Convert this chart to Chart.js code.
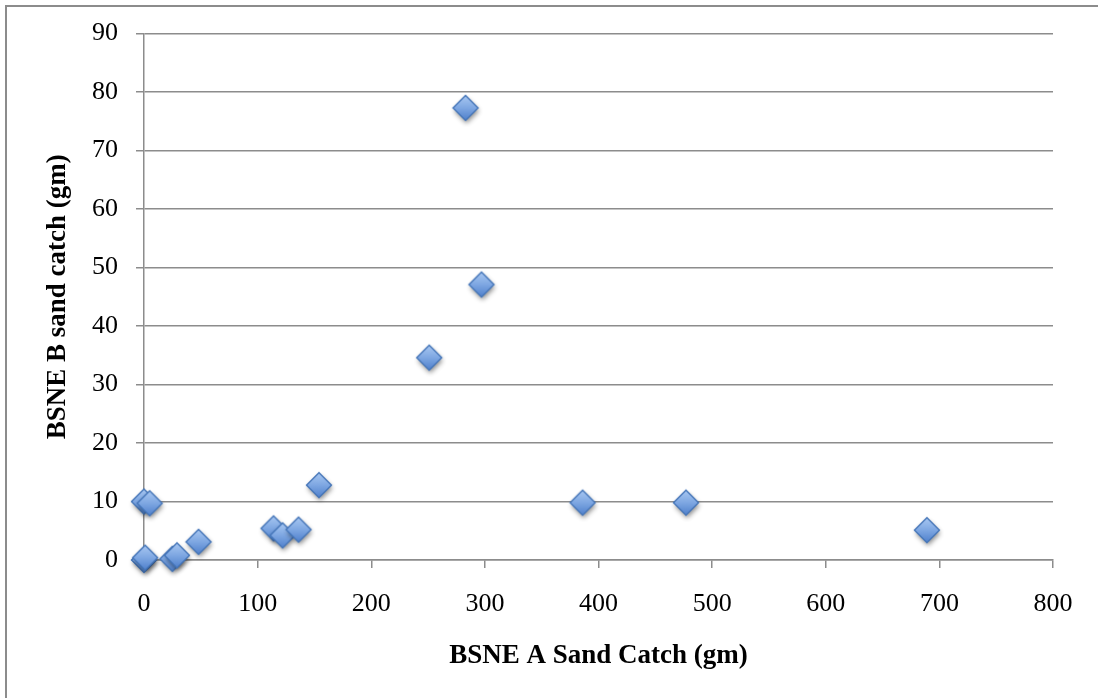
<!DOCTYPE html>
<html>
<head>
<meta charset="utf-8">
<script src="https://cdn.jsdelivr.net/npm/chart.js@4"></script>
<style>
  html, body { margin: 0; padding: 0; background: #fff; }
  #wrap { position: relative; width: 1098px; height: 698px; }
  #frame {
    position: absolute; left: 5px; top: 5px; width: 1093px; height: 693px;
    border-top: 2px solid #8c8c8c; border-left: 2px solid #8c8c8c;
    box-sizing: border-box; pointer-events: none;
  }
  canvas { position: absolute; left: 0; top: 0; }
</style>
</head>
<body>
<div id="wrap">
  <canvas id="c" width="1098" height="698"></canvas>
  <div id="frame"></div>
</div>
<script>
// BSNE trap A catch (x) versus trap B catch (y), grams
const catchA = [0, 1, 25, 29, 48, 0, 5, 114, 122, 136, 154, 251, 283, 297, 386, 477, 689];
const catchB = [0, 0.4, 0.2, 0.8, 3.1, 10.0, 9.7, 5.4, 4.2, 5.2, 12.8, 34.6, 77.3, 47.1, 9.8, 9.8, 5.1];

const xTitle = 'BSNE A Sand Catch (gm)';
const yTitle = 'BSNE B sand catch (gm)';

const points = catchA.map((x, i) => ({ x: x, y: catchB[i] }));

// Diamond marker with gradient fill and soft drop shadow
function makeDiamond(half) {
  const size = 44;
  const cv = document.createElement('canvas');
  cv.width = size; cv.height = size;
  const g = cv.getContext('2d');
  const c = size / 2;
  const path = () => {
    g.beginPath();
    g.moveTo(c, c - half);
    g.lineTo(c + half, c);
    g.lineTo(c, c + half);
    g.lineTo(c - half, c);
    g.closePath();
  };
  const grad = g.createLinearGradient(0, c - half, 0, c + half);
  grad.addColorStop(0, '#a9c8f2');
  grad.addColorStop(0.5, '#7ea7e2');
  grad.addColorStop(1, '#4f80cc');
  g.save();
  g.shadowColor = 'rgba(0,0,0,0.45)';
  g.shadowBlur = 5;
  g.shadowOffsetX = 1;
  g.shadowOffsetY = 3;
  path();
  g.fillStyle = grad;
  g.fill();
  g.restore();
  path();
  g.lineWidth = 1.4;
  g.strokeStyle = '#4475b8';
  g.stroke();
  return cv;
}

const marker = makeDiamond(12.5);
const gridColor = '#8c8c8c';
const tickFont = { family: '"Liberation Serif", serif', size: 26 };
const titleFont = { family: '"Liberation Serif", serif', size: 27, weight: 'bold' };

new Chart(document.getElementById('c'), {
  type: 'scatter',
  data: {
    datasets: [{
      data: points,
      pointStyle: marker,
      pointRadius: 13,
      pointHoverRadius: 13,
      clip: false
    }]
  },
  options: {
    responsive: false,
    animation: false,
    devicePixelRatio: 1,
    layout: { padding: { left: 6, top: 33, right: 45, bottom: 0 } },
    plugins: { legend: { display: false }, tooltip: { enabled: false } },
    scales: {
      x: {
        type: 'linear',
        min: 0, max: 800,
        ticks: { stepSize: 100, color: '#000', font: tickFont, padding: 21, maxRotation: 0 },
        grid: { drawOnChartArea: false, drawTicks: true, tickLength: 8, color: gridColor, lineWidth: 1.5 },
        border: { display: true, color: gridColor, width: 1.5 },
        title: { display: true, text: xTitle, color: '#000', font: titleFont, padding: { top: 0, bottom: 26 } },
        afterFit: (s) => { s.height = 138; }
      },
      y: {
        type: 'linear',
        min: 0, max: 90,
        ticks: { stepSize: 10, color: '#000', font: tickFont, padding: 18 },
        grid: { drawOnChartArea: true, drawTicks: true, tickLength: 8, color: gridColor, lineWidth: 1.5 },
        border: { display: true, color: gridColor, width: 1.5 },
        title: { display: true, text: yTitle, color: '#000', font: titleFont, padding: { top: 36, bottom: 0 } },
        afterFit: (s) => { s.width = 138; }
      }
    }
  }
});
</script>
</body>
</html>
